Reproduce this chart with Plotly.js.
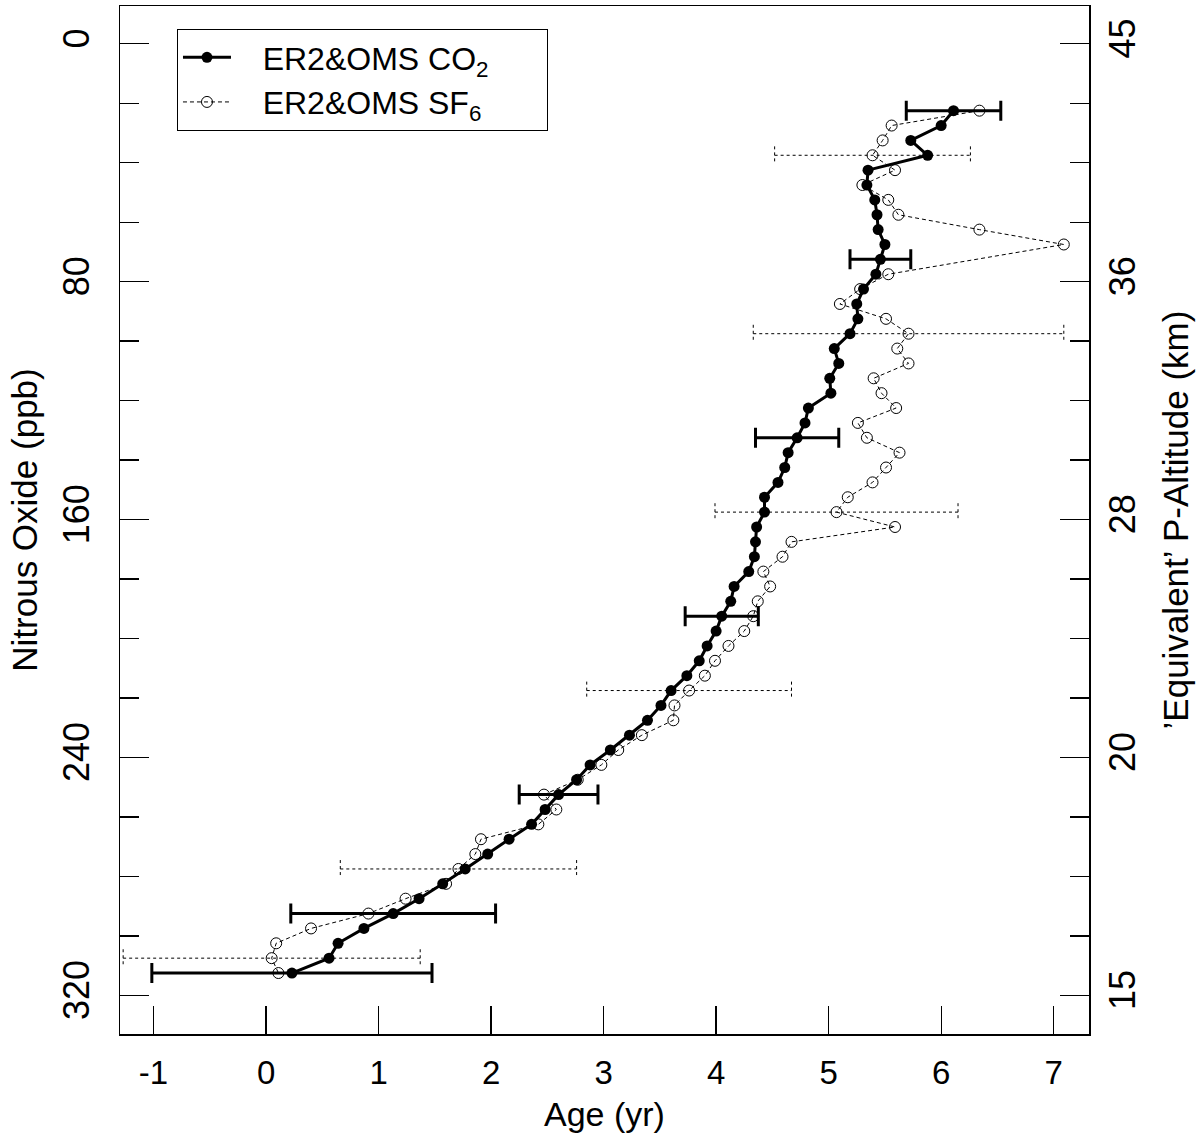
<!DOCTYPE html>
<html><head><meta charset="utf-8">
<script src="https://cdn.plot.ly/plotly-3.0.1.min.js"></script>
<style>html,body{margin:0;padding:0;background:#fff}#chart{width:1204px;height:1139px}</style>
</head><body><div id="chart"></div>
<script>
// N2O bins (ppb)
const n2oBins = [22.5, 27.5, 32.5, 37.5, 42.5, 47.5, 52.5, 57.5, 62.5, 67.5,
  72.5, 77.5, 82.5, 87.5, 92.5, 97.5, 102.5, 107.5, 112.5, 117.5,
  122.5, 127.5, 132.5, 137.5, 142.5, 147.5, 152.5, 157.5, 162.5, 167.5,
  172.5, 177.5, 182.5, 187.5, 192.5, 197.5, 202.5, 207.5, 212.5, 217.5,
  222.5, 227.5, 232.5, 237.5, 242.5, 247.5, 252.5, 257.5, 262.5, 267.5,
  272.5, 277.5, 282.5, 287.5, 292.5, 297.5, 302.5, 307.5, 312.5];
// Mean age from CO2 (yr)
const co2Age = [6.11, 6.00, 5.73, 5.88, 5.35, 5.34, 5.41, 5.43, 5.44, 5.50,
  5.46, 5.42, 5.31, 5.25, 5.26, 5.19, 5.05, 5.09, 5.01, 5.02,
  4.82, 4.79, 4.72, 4.64, 4.61, 4.55, 4.43, 4.43, 4.36, 4.35,
  4.34, 4.29, 4.16, 4.13, 4.05, 4.00, 3.92, 3.85, 3.74, 3.60,
  3.51, 3.39, 3.23, 3.06, 2.88, 2.76, 2.60, 2.48, 2.36, 2.16,
  1.97, 1.77, 1.57, 1.36, 1.13, 0.87, 0.64, 0.56, 0.23];
// Mean age from SF6 (yr)
const sf6Age = [6.34, 5.56, 5.48, 5.39, 5.59, 5.30, 5.53, 5.62, 6.34, 7.09,
  null, 5.53, 5.28, 5.10, 5.51, 5.71, 5.61, 5.71, 5.40, 5.47,
  5.60, 5.26, 5.34, 5.63, 5.51, 5.39, 5.17, 5.07, 5.59, 4.67,
  4.59, 4.42, 4.48, 4.37, 4.33, 4.25, 4.11, 3.99, 3.90, 3.76,
  3.63, 3.62, 3.34, 3.13, 2.98, 2.77, 2.47, 2.58, 2.42, 1.91,
  1.86, 1.71, 1.60, 1.24, 0.91, 0.40, 0.09, 0.05, 0.11];
// Error bars (half widths, yr)
const co2ErrBins = [22.5, 72.5, 132.5, 192.5, 252.5, 292.5, 312.5];
const co2ErrHalf = [0.42, 0.27, 0.37, 0.325, 0.35, 0.91, 1.245];
const sf6ErrBins = [37.5, 97.5, 157.5, 217.5, 277.5, 307.5];
const sf6ErrHalf = [0.87, 1.38, 1.08, 0.91, 1.05, 1.32];
// Axis ticks
const ageTicks = [-1, 0, 1, 2, 3, 4, 5, 6, 7];
const ageTickText = ['-1', '0', '1', '2', '3', '4', '5', '6', '7'];
const n2oTicks = [0, 80, 160, 240, 320];
const altTickText = ['45', '36', '28', '20', '15'];
// Legend labels
const co2Label = 'ER2&amp;OMS CO<sub>2</sub>';
const sf6Label = 'ER2&amp;OMS SF<sub>6</sub>';

const F = 'Liberation Sans, Arial, Helvetica, sans-serif';
const NB = '\u00A0';
function ageAt(series, bin) { return series[n2oBins.indexOf(bin)]; }
function padLabel(s) { return NB.repeat(3) + s + NB.repeat(6); }

// dotted SF6 error bars (drawn as line paths built from the data)
const capHalf = 3.0;
const sx = [], sy = [];
sf6ErrBins.forEach((b, i) => {
  const c = ageAt(sf6Age, b), e = sf6ErrHalf[i];
  sx.push(c - e, c + e, null, c - e, c - e, null, c + e, c + e, null);
  sy.push(b, b, null, b - capHalf, b + capHalf, null, b - capHalf, b + capHalf, null);
});

const traces = [
  { x: sx, y: sy, mode: 'lines', line: { color: 'black', width: 1, dash: '3px,3px' },
    showlegend: false, hoverinfo: 'skip' },
  { x: sf6Age, y: n2oBins, mode: 'lines+markers', connectgaps: true,
    name: padLabel(sf6Label), legendgroup: 'b',
    line: { color: 'black', width: 1, dash: '4px,3px' },
    marker: { symbol: 'circle-open', size: 11, color: 'black', line: { width: 1 } } },
  { x: co2ErrBins.map(b => ageAt(co2Age, b)), y: co2ErrBins, mode: 'markers',
    marker: { size: 1, color: 'rgba(0,0,0,0)' }, showlegend: false, hoverinfo: 'skip',
    error_x: { type: 'data', array: co2ErrHalf, visible: true, color: 'black', thickness: 3, width: 10 } },
  { x: co2Age, y: n2oBins, mode: 'lines+markers',
    name: padLabel(co2Label), legendgroup: 'a',
    line: { color: 'black', width: 3 },
    marker: { symbol: 'circle', size: 11, color: 'black' } },
  { x: [null], y: [null], yaxis: 'y2', showlegend: false, hoverinfo: 'skip', mode: 'markers' }
];

const yCommon = {
  range: [333, -12.7], tickmode: 'array', tickvals: n2oTicks,
  ticks: 'inside', ticklen: 29, tickwidth: 1.3, tickcolor: 'black',
  minor: { tickmode: 'linear', tick0: 0, dtick: 20, ticks: 'inside', ticklen: 19, tickwidth: 1.3, tickcolor: 'black' },
  showline: true, linecolor: 'black', linewidth: 1.5,
  showgrid: false, zeroline: false, tickangle: -90,
  tickfont: { family: F, size: 36, color: 'black' }
};

const layout = {
  width: 1204, height: 1139,
  margin: { l: 120, r: 115, t: 6, b: 105 },
  paper_bgcolor: 'white', plot_bgcolor: 'white',
  font: { family: F, color: 'black', size: 30 },
  showlegend: true,
  legend: { x: 0.0588, y: 0.9776, xanchor: 'left', yanchor: 'top',
    bordercolor: 'black', borderwidth: 1, bgcolor: 'white',
    font: { family: F, size: 32, color: 'black' }, traceorder: 'reversed', tracegroupgap: 16,
    itemwidth: 48 },
  xaxis: {
    range: [-1.298, 7.314], tickmode: 'array', tickvals: ageTicks, ticktext: ageTickText,
    ticks: 'inside', ticklen: 28, tickwidth: 1.3, tickcolor: 'black',
    showline: true, linecolor: 'black', linewidth: 1.5, mirror: true,
    showgrid: false, zeroline: false, ticklabelstandoff: 9,
    tickfont: { family: F, size: 33, color: 'black' },
    title: { text: 'Age (yr)', font: { family: F, size: 34 }, standoff: 12 }
  },
  yaxis: Object.assign({}, yCommon, {
    side: 'left', ticklabelstandoff: 15,
    title: { text: 'Nitrous Oxide (ppb)', font: { family: F, size: 35 }, standoff: 8 }
  }),
  yaxis2: Object.assign({}, yCommon, {
    overlaying: 'y', side: 'right', anchor: 'x',
    ticktext: altTickText, ticklabelstandoff: 1,
    title: { text: '’Equivalent’ P-Altitude (km)', font: { family: F, size: 35 }, standoff: 22 }
  })
};

Plotly.newPlot('chart', traces, layout, { staticPlot: true, displayModeBar: false });
</script>
</body></html>
